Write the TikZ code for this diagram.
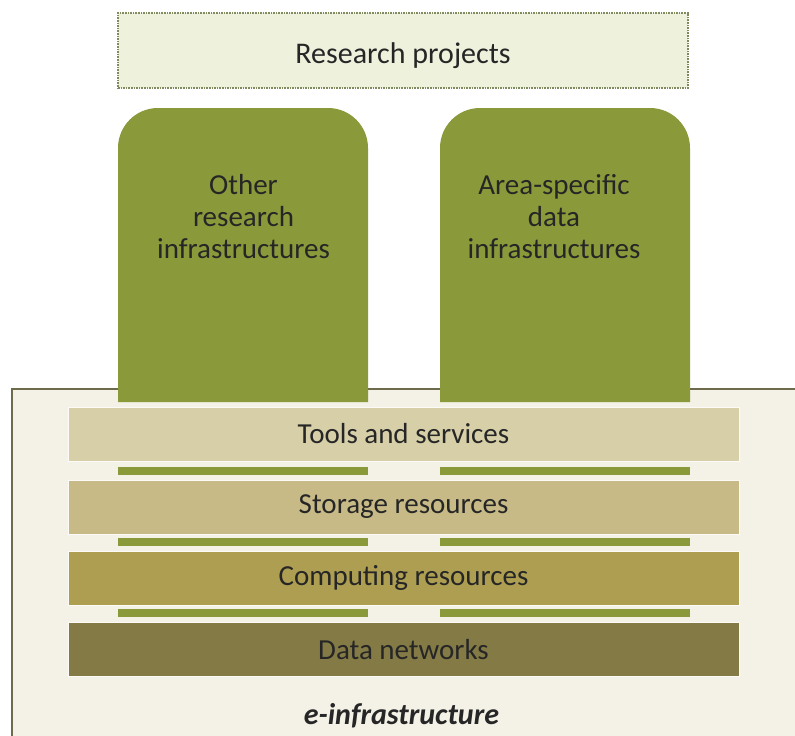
\documentclass[tikz,border=0pt]{standalone}
\usepackage{fontspec}
\setmainfont{Carlito}
\usepackage{tikz}

\definecolor{pillargreen}{HTML}{8A9A3A}
\definecolor{topfill}{HTML}{EEF2DC}
\definecolor{dotgreen}{HTML}{7F8A5E}
\definecolor{cream}{HTML}{F4F1E6}
\definecolor{edgeolive}{HTML}{6E6B4C}
\definecolor{toolscol}{HTML}{D6CFA8}
\definecolor{storagecol}{HTML}{C7BA86}
\definecolor{computecol}{HTML}{AD9E52}
\definecolor{netcol}{HTML}{837A45}
\definecolor{textgray}{HTML}{262626}

\begin{document}
\begin{tikzpicture}[x=1pt,y=-1pt,
    txt/.style={font=\fontsize{29}{32}\selectfont,text=textgray,align=center},
    layer/.style={txt,minimum width=671pt,minimum height=54pt,inner sep=0pt,draw=white!70!cream,line width=0.8pt},
    pillar/.style={fill=pillargreen}]

        \useasboundingbox[fill=white] (0,0) rectangle (795,736);

        % e-infrastructure frame
        \fill[cream] (12,389) rectangle (795,736);
        \draw[edgeolive,line width=2pt] (12,736) -- (12,389) -- (795,389);

        \node[txt,font=\fontsize{30}{32}\selectfont,minimum width=570pt,minimum height=75pt,inner sep=0pt,
              text height=25pt,text depth=0pt,
              fill=topfill,draw=dotgreen,densely dotted,line width=1.6pt]
              (projects) at (403,50.5) {Research projects};

        % pillars
        \fill[pillar] (118,402) [rounded corners=40pt] -- (118,108) -- (368,108) [sharp corners] -- (368,402) -- cycle;
        \fill[pillar] (440,402) [rounded corners=40pt] -- (440,108) -- (690,108) [sharp corners] -- (690,402) -- cycle;
        \node[txt] (other) at (243.5,217) {Other\\research\\infrastructures};
        \node[txt] (areadata) at (554,217) {Area-specific\\data\\infrastructures};

        \foreach \y in {467,538,609} {
          \fill[pillargreen] (118,\y) rectangle (368,\y+8);
          \fill[pillargreen] (440,\y) rectangle (690,\y+8);
        }

        \node[layer,fill=toolscol]   (tools)   at (403.5,434)   {Tools and services};
        \node[layer,fill=storagecol] (storage) at (403.5,507)   {Storage resources};
        \node[layer,fill=computecol] (compute) at (403.5,578)   {Computing resources};
        \node[layer,fill=netcol]     (networks) at (403.5,649.5) {Data networks};

        \node[txt,font=\fontsize{30}{32}\selectfont\bfseries\itshape] (einfra) at (401.5,716) {e-infrastructure};
      \end{tikzpicture}
\end{document}
